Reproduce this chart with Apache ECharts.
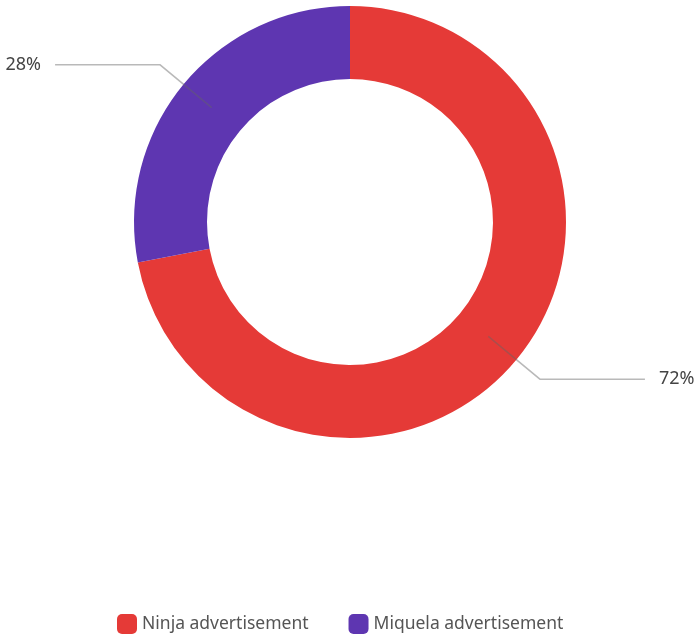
<!DOCTYPE html>
<html>
<head>
<meta charset="utf-8">
<style>
  html, body { margin: 0; padding: 0; background: #fff; }
  #chart { width: 699px; height: 639px; }
</style>
<script src="https://cdn.jsdelivr.net/npm/echarts@6/dist/echarts.min.js"></script>
</head>
<body>
<div id="chart"></div>
<script>
// Share of each advertisement
const categories = ['Ninja advertisement', 'Miquela advertisement'];
const shares = [72, 28];
const colors = ['#E53A37', '#5E36B1'];

const chart = echarts.init(document.getElementById('chart'), null, { renderer: 'canvas' });

const ringData = categories.map((name, i) => ({
  name: name,
  value: shares[i],
  itemStyle: { color: colors[i] }
}));

// Invisible inner pie whose edge sits mid-ring, so the leader lines start inside the band
const labelData = categories.map((name, i) => ({
  name: name,
  value: shares[i],
  itemStyle: { color: 'rgba(0,0,0,0)' }
}));

chart.setOption({
  animation: false,
  legend: {
    data: categories,
    bottom: 0,
    left: 112,
    icon: 'roundRect',
    itemWidth: 20,
    itemHeight: 20,
    itemGap: 40,
    textStyle: { fontFamily: 'Noto Sans', fontSize: 17.5, color: '#555' }
  },
  series: [
    {
      type: 'pie',
      z: 2,
      center: [350, 222],
      radius: [143, 216],
      startAngle: 90,
      clockwise: true,
      silent: true,
      label: { show: false },
      labelLine: { show: false },
      data: ringData
    },
    {
      type: 'pie',
      z: 5,
      center: [350, 222],
      radius: [0, 179.5],
      startAngle: 90,
      clockwise: true,
      silent: true,
      legendHoverLink: false,
      label: {
        show: true,
        formatter: '{c}%',
        fontFamily: 'Noto Sans',
        fontSize: 18,
        color: '#444',
        overflow: 'none',
        edgeDistance: 0,
        distanceToLabelLine: 14
      },
      labelLine: {
        show: true,
        length: 67,
        length2: 105,
        lineStyle: { color: 'rgba(100,100,100,0.45)', width: 1.5 }
      },
      data: labelData
    }
  ]
});
</script>
</body>
</html>
